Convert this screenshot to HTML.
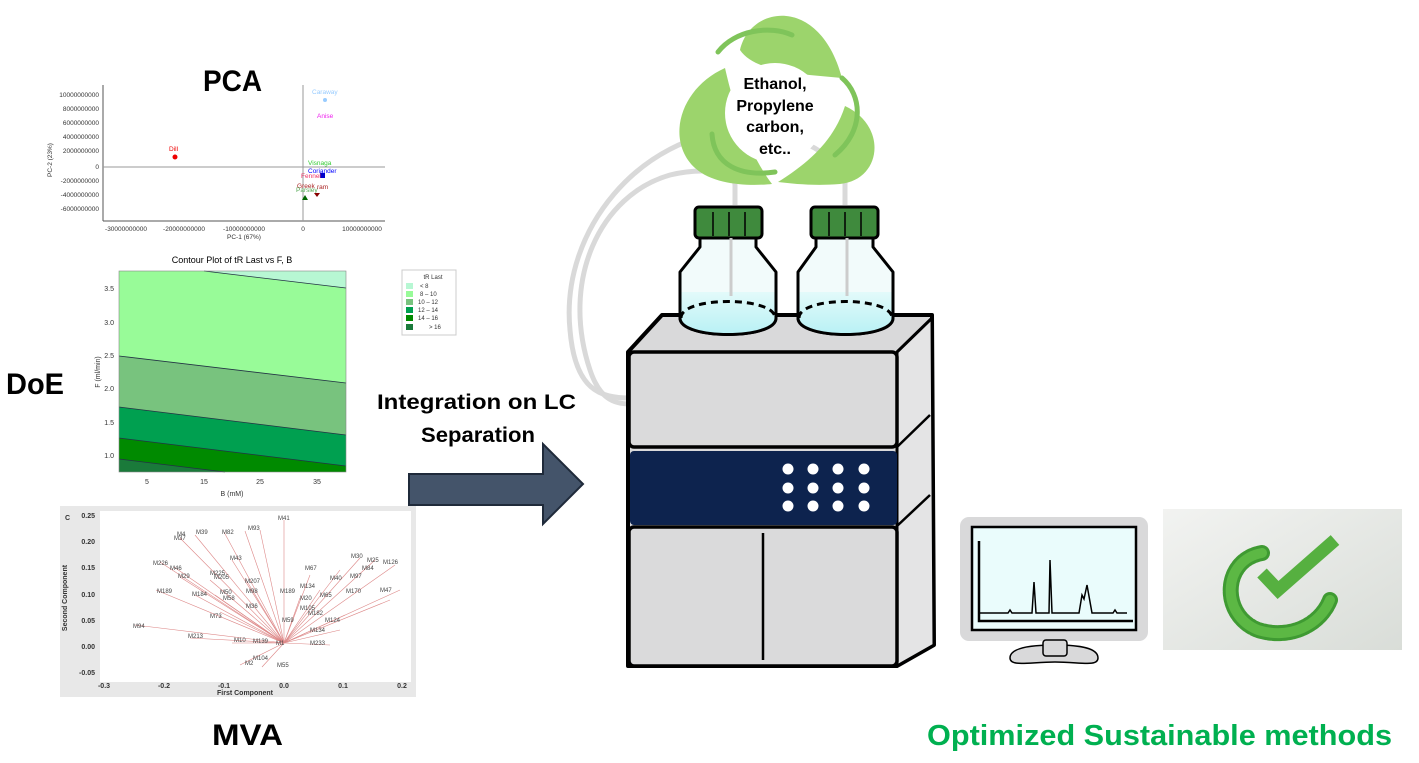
<!DOCTYPE html>
<html><head><meta charset="utf-8"><style>
body{margin:0;background:#fff;width:1419px;height:763px;overflow:hidden}
svg{display:block}
text{font-family:"Liberation Sans",sans-serif}
.b{font-family:"Liberation Sans",sans-serif;font-weight:bold}
</style></head><body>
<svg width="1419" height="763" viewBox="0 0 1419 763">
<defs>
<linearGradient id="cg" x1="0" y1="0" x2="1" y2="1"><stop offset="0" stop-color="#f2f3f1"/><stop offset="1" stop-color="#d9ddd8"/></linearGradient>
<linearGradient id="liq" x1="0" y1="0" x2="0" y2="1"><stop offset="0" stop-color="#e3fafa"/><stop offset="1" stop-color="#b8f1f5"/></linearGradient>
</defs>
<!-- Titles -->
<text x="203" y="91" class="b" font-size="30" textLength="59" lengthAdjust="spacingAndGlyphs">PCA</text>
<text x="6" y="394" class="b" font-size="30" textLength="58" lengthAdjust="spacingAndGlyphs">DoE</text>
<text x="212" y="745" class="b" font-size="30" textLength="71" lengthAdjust="spacingAndGlyphs">MVA</text>
<text x="377" y="409" class="b" font-size="21" textLength="199" lengthAdjust="spacingAndGlyphs">Integration on LC</text>
<text x="421" y="442" class="b" font-size="21" textLength="114" lengthAdjust="spacingAndGlyphs">Separation</text>
<text x="927" y="745" class="b" font-size="29" fill="#00b050" textLength="465" lengthAdjust="spacingAndGlyphs">Optimized Sustainable methods</text>

<!-- PCA -->
<g font-size="6.5" fill="#333">
<line x1="103" y1="85" x2="103" y2="221" stroke="#555"/>
<line x1="103" y1="221" x2="385" y2="221" stroke="#555"/>
<line x1="103" y1="167" x2="385" y2="167" stroke="#999"/>
<line x1="303" y1="85" x2="303" y2="221" stroke="#999"/>
<g text-anchor="end">
<text x="99" y="97">10000000000</text><text x="99" y="111">8000000000</text><text x="99" y="125">6000000000</text><text x="99" y="139">4000000000</text><text x="99" y="153">2000000000</text><text x="99" y="169">0</text><text x="99" y="183">-2000000000</text><text x="99" y="197">-4000000000</text><text x="99" y="211">-6000000000</text>
</g>
<g text-anchor="middle"><text x="126" y="231">-30000000000</text><text x="184" y="231">-20000000000</text><text x="244" y="231">-10000000000</text><text x="303" y="231">0</text><text x="362" y="231">10000000000</text><text x="244" y="239">PC-1 (67%)</text></g>
<text x="52" y="160" transform="rotate(-90 52 160)" text-anchor="middle">PC-2 (23%)</text>
<circle cx="175" cy="157" r="2.5" fill="#e00"/><text x="169" y="151" fill="#e00">Dill</text>
<circle cx="325" cy="100" r="2" fill="#9cf"/><text x="312" y="94" fill="#9cf">Caraway</text>
<text x="317" y="118" fill="#e2e">Anise</text>
<text x="308" y="165" fill="#3c3">Visnaga</text>
<rect x="320" y="173" width="5" height="5" fill="#00c"/><text x="308" y="173" fill="#00f">Coriander</text>
<text x="301" y="178" fill="#e36">Fennel</text>
<text x="297" y="188" fill="#a22">Greek</text><text x="317" y="189" fill="#a22">ram</text>
<text x="296" y="192" fill="#5a5">Parsley</text>
<path d="M305,195 l3,5 h-6z" fill="#060"/><path d="M314,193 l3,4 l3,-4z" fill="#800"/>
</g>

<!-- DoE contour -->
<text x="232" y="263" font-size="9" text-anchor="middle">Contour Plot of tR Last vs F, B</text>
<rect x="119" y="271" width="227" height="201" fill="#98fb98"/>
<path d="M204,271 L346,271 L346,288 Z" fill="#b7f7d3"/>
<path d="M119,356 L346,383 L346,472 L119,472Z" fill="#78c37e"/>
<path d="M119,407 L346,435 L346,472 L119,472Z" fill="#00a050"/>
<path d="M119,438 L346,466 L346,472 L119,472Z" fill="#008a00"/>
<path d="M119,459 L225,472 L119,472Z" fill="#1a7a3a"/>
<g stroke="#234" stroke-width="0.8" fill="none"><path d="M204,271 L346,288"/><path d="M119,356 L346,383"/><path d="M119,407 L346,435"/><path d="M119,438 L346,466"/><path d="M119,459 L225,472"/></g>
<rect x="119" y="271" width="227" height="201" fill="none" stroke="#888" stroke-width="0.6"/>
<g font-size="7" fill="#333">
<text x="114" y="291" text-anchor="end">3.5</text><text x="114" y="325" text-anchor="end">3.0</text><text x="114" y="358" text-anchor="end">2.5</text><text x="114" y="391" text-anchor="end">2.0</text><text x="114" y="425" text-anchor="end">1.5</text><text x="114" y="458" text-anchor="end">1.0</text>
<text x="147" y="484" text-anchor="middle">5</text><text x="204" y="484" text-anchor="middle">15</text><text x="260" y="484" text-anchor="middle">25</text><text x="317" y="484" text-anchor="middle">35</text>
<text x="232" y="496" text-anchor="middle">B (mM)</text>
<text x="100" y="372" transform="rotate(-90 100 372)" text-anchor="middle">F (ml/min)</text>
</g>
<rect x="402" y="270" width="54" height="65" fill="#fff" stroke="#ccc"/>
<g font-size="6" fill="#333"><text x="433" y="279" text-anchor="middle">tR Last</text>
<rect x="406" y="283" width="7" height="6" fill="#b7f7d3"/><text x="420" y="288">&lt;    8</text>
<rect x="406" y="291" width="7" height="6" fill="#98fb98"/><text x="420" y="296">8 – 10</text>
<rect x="406" y="299" width="7" height="6" fill="#78c37e"/><text x="418" y="304">10 – 12</text>
<rect x="406" y="307" width="7" height="6" fill="#00a050"/><text x="418" y="312">12 – 14</text>
<rect x="406" y="315" width="7" height="6" fill="#008a00"/><text x="418" y="320">14 – 16</text>
<rect x="406" y="324" width="7" height="6" fill="#1a7a3a"/><text x="429" y="329">&gt; 16</text></g>

<!-- MVA -->
<rect x="60" y="506" width="356" height="191" fill="#e8e8e8"/>
<rect x="100" y="511" width="311" height="171" fill="#fff"/>
<g stroke="#d88" stroke-width="0.6">
<line x1="284" y1="643" x2="284" y2="520"/><line x1="284" y1="643" x2="180" y2="538"/><line x1="284" y1="643" x2="195" y2="535"/><line x1="284" y1="643" x2="224" y2="532"/><line x1="284" y1="643" x2="245" y2="531"/><line x1="284" y1="643" x2="260" y2="530"/>
<line x1="284" y1="643" x2="160" y2="562"/><line x1="284" y1="643" x2="174" y2="567"/><line x1="284" y1="643" x2="180" y2="577"/><line x1="284" y1="643" x2="156" y2="590"/><line x1="284" y1="643" x2="210" y2="580"/><line x1="284" y1="643" x2="232" y2="560"/><line x1="284" y1="643" x2="245" y2="578"/><line x1="284" y1="643" x2="215" y2="595"/><line x1="284" y1="643" x2="195" y2="595"/><line x1="284" y1="643" x2="220" y2="612"/>
<line x1="284" y1="643" x2="135" y2="625"/><line x1="284" y1="643" x2="190" y2="638"/><line x1="284" y1="643" x2="232" y2="643"/><line x1="284" y1="643" x2="240" y2="665"/><line x1="284" y1="643" x2="262" y2="667"/>
<line x1="284" y1="643" x2="360" y2="558"/><line x1="284" y1="643" x2="375" y2="560"/><line x1="284" y1="643" x2="395" y2="565"/><line x1="284" y1="643" x2="400" y2="590"/><line x1="284" y1="643" x2="390" y2="600"/><line x1="284" y1="643" x2="340" y2="570"/><line x1="284" y1="643" x2="310" y2="575"/><line x1="284" y1="643" x2="320" y2="590"/><line x1="284" y1="643" x2="345" y2="615"/><line x1="284" y1="643" x2="340" y2="630"/><line x1="284" y1="643" x2="330" y2="645"/><line x1="284" y1="643" x2="300" y2="598"/>
</g>
<g font-size="6" fill="#444">
<text x="278" y="520">M41</text><text x="248" y="530">M93</text><text x="222" y="534">M82</text><text x="196" y="534">M39</text><text x="177" y="536">M4</text><text x="174" y="540">M37</text>
<text x="153" y="565">M226</text><text x="170" y="570">M46</text><text x="178" y="578">M29</text><text x="210" y="575">M225</text><text x="214" y="579">M205</text><text x="230" y="560">M43</text><text x="245" y="583">M207</text><text x="246" y="593">M98</text>
<text x="157" y="593">M189</text><text x="192" y="596">M184</text><text x="220" y="594">M50</text><text x="223" y="600">M58</text><text x="246" y="608">M36</text><text x="210" y="618">M73</text><text x="133" y="628">M94</text><text x="188" y="638">M213</text><text x="234" y="642">M10</text><text x="253" y="643">M139</text>
<text x="280" y="593">M189</text><text x="305" y="570">M67</text><text x="330" y="580">M40</text><text x="351" y="558">M30</text><text x="367" y="562">M25</text><text x="383" y="564">M126</text><text x="362" y="570">M84</text><text x="350" y="578">M97</text><text x="346" y="593">M170</text><text x="380" y="592">M47</text>
<text x="300" y="588">M134</text><text x="320" y="597">M65</text><text x="300" y="600">M20</text><text x="300" y="610">M105</text><text x="308" y="615">M182</text><text x="325" y="622">M124</text><text x="310" y="632">M134</text><text x="282" y="622">M59</text><text x="276" y="645">M1</text><text x="310" y="645">M233</text><text x="253" y="660">M104</text><text x="245" y="665">M2</text><text x="277" y="667">M55</text>
</g>
<g font-size="7" fill="#333" font-weight="bold">
<text x="95" y="518" text-anchor="end">0.25</text><text x="95" y="544" text-anchor="end">0.20</text><text x="95" y="570" text-anchor="end">0.15</text><text x="95" y="597" text-anchor="end">0.10</text><text x="95" y="623" text-anchor="end">0.05</text><text x="95" y="649" text-anchor="end">0.00</text><text x="95" y="675" text-anchor="end">-0.05</text>
<text x="104" y="688" text-anchor="middle">-0.3</text><text x="164" y="688" text-anchor="middle">-0.2</text><text x="224" y="688" text-anchor="middle">-0.1</text><text x="284" y="688" text-anchor="middle">0.0</text><text x="343" y="688" text-anchor="middle">0.1</text><text x="402" y="688" text-anchor="middle">0.2</text>
<text x="245" y="695" text-anchor="middle">First Component</text>
<text x="67" y="598" transform="rotate(-90 67 598)" text-anchor="middle">Second Component</text>
<text x="65" y="520">C</text></g>

<!-- Arrow -->
<path d="M409,474 H543 V444 L583,484 L543,524 V505 H409 Z" fill="#44546a" stroke="#1f2a3a" stroke-width="2"/>

<!-- tubes -->
<g fill="none" stroke="#d9d9d9" stroke-width="5">
<path d="M735,205 V185 C735,170 700,168 670,175 C600,195 560,280 590,370 C600,400 615,404 630,404"/>
<path d="M845,205 V180 C845,165 800,127 740,130 C640,135 560,230 570,330 C575,390 600,398 630,398"/>
</g>

<!-- leaves -->
<path d="M740,50 C750,5 820,-5 842,78 C800,74 755,72 740,50Z" fill="#9cd46c"/>
<path d="M725,68 C680,88 665,140 695,168 C715,186 752,186 772,184 C750,155 735,112 725,68Z" fill="#9cd46c"/>
<path d="M845,106 C888,126 882,180 840,184 C815,186 795,184 778,182 C810,162 834,140 845,106Z" fill="#9cd46c"/>
<circle cx="775" cy="113" r="50" fill="#fff"/>
<g fill="none" stroke="#7fc45a" stroke-width="5" stroke-linecap="round">
<path d="M718,52 C735,30 770,25 792,35"/><path d="M842,78 C862,95 865,130 835,155"/><path d="M712,134 C714,165 740,177 775,172"/>
</g>
<g class="b" font-size="16" text-anchor="middle"><text x="775" y="89">Ethanol,</text><text x="775" y="111">Propylene</text><text x="775" y="132">carbon,</text><text x="775" y="154">etc..</text></g>

<!-- LC instrument -->
<path d="M628,352 L662,315 L932,315 L934,645 L897,666 L628,666Z" fill="#d9d9da" stroke="#000" stroke-width="4" stroke-linejoin="round"/>
<path d="M897,352 L932,318 L934,645 L897,666Z" fill="#e4e4e5" stroke="#000" stroke-width="3" stroke-linejoin="round"/>
<line x1="897" y1="447" x2="930" y2="415" stroke="#000" stroke-width="2.5"/>
<line x1="897" y1="526" x2="930" y2="495" stroke="#000" stroke-width="2.5"/>
<rect x="629" y="352" width="268" height="95" rx="5" fill="#dadadb" stroke="#000" stroke-width="3.5"/>
<rect x="630" y="451" width="267" height="74" rx="4" fill="#0d234e"/>
<rect x="629" y="527" width="268" height="139" rx="5" fill="#dadadb" stroke="#000" stroke-width="3.5"/>
<line x1="763" y1="533" x2="763" y2="660" stroke="#000" stroke-width="2.5"/>
<g fill="#fff">
<circle cx="788" cy="469" r="5.5"/><circle cx="813" cy="469" r="5.5"/><circle cx="838" cy="469" r="5.5"/><circle cx="864" cy="469" r="5.5"/>
<circle cx="788" cy="488" r="5.5"/><circle cx="813" cy="488" r="5.5"/><circle cx="838" cy="488" r="5.5"/><circle cx="864" cy="488" r="5.5"/>
<circle cx="788" cy="506" r="5.5"/><circle cx="813" cy="506" r="5.5"/><circle cx="838" cy="506" r="5.5"/><circle cx="864" cy="506" r="5.5"/>
</g>

<!-- bottles -->
<g stroke="#000" stroke-width="3" stroke-linejoin="round">
<path d="M700,237 L700,247 L680,272 L680,318 C680,340 776,340 776,318 L776,272 L756,247 L756,237Z" fill="#f2fbfb"/>
<path d="M681,292 H775 V318 C775,340 681,340 681,318Z" fill="url(#liq)" stroke="none"/>
<path d="M680,272 L680,318 C680,340 776,340 776,318 L776,272" fill="none"/>
<rect x="695" y="207" width="67" height="31" rx="4" fill="#3f8a3d"/>
<path d="M816,237 L816,247 L798,272 L798,318 C798,340 893,340 893,318 L893,272 L873,247 L873,237Z" fill="#f2fbfb"/>
<path d="M799,292 H892 V318 C892,340 799,340 799,318Z" fill="url(#liq)" stroke="none"/>
<path d="M798,272 L798,318 C798,340 893,340 893,318 L893,272" fill="none"/>
<rect x="811" y="207" width="67" height="31" rx="4" fill="#3f8a3d"/>
</g>
<g stroke="#000" stroke-width="1.5"><line x1="713" y1="212" x2="713" y2="236"/><line x1="729" y1="212" x2="729" y2="236"/><line x1="745" y1="212" x2="745" y2="236"/><line x1="829" y1="212" x2="829" y2="236"/><line x1="845" y1="212" x2="845" y2="236"/><line x1="861" y1="212" x2="861" y2="236"/></g>
<g stroke="#ccc" stroke-width="3"><line x1="731" y1="238" x2="731" y2="296"/><line x1="847" y1="238" x2="847" y2="296"/></g>
<g fill="none" stroke="#000" stroke-width="3" stroke-dasharray="7,5"><path d="M681,318 C681,296 775,296 775,318"/><path d="M799,318 C799,296 892,296 892,318"/></g>

<!-- monitor -->
<rect x="960" y="517" width="188" height="124" rx="9" fill="#d9d9da"/>
<rect x="972" y="527" width="164" height="103" fill="#eafcfc" stroke="#000" stroke-width="2.5"/>
<path d="M979,541 V621 H1133" fill="none" stroke="#000" stroke-width="2.5"/>
<path d="M979,613 H1008 L1010,610 L1012,613 H1032 L1034,582 L1036,613 H1049 L1050,560 L1052,613 H1079 L1082,595 L1084,599 L1087,585 L1092,613 H1113 L1115,610 L1117,613 H1127" fill="none" stroke="#000" stroke-width="1.5"/>
<path d="M1010,658 C1010,648 1030,645 1055,645 C1080,645 1098,648 1098,658 C1098,667 1080,662 1055,662 C1030,662 1010,667 1010,658Z" fill="#d9d9da" stroke="#000" stroke-width="1.5"/>
<rect x="1043" y="640" width="24" height="16" rx="3" fill="#d9d9da" stroke="#000" stroke-width="1.5"/>

<!-- check image -->
<rect x="1163" y="509" width="239" height="141" fill="url(#cg)"/>
<path d="M1262,553 C1222,560 1220,615 1258,630 C1290,640 1320,625 1330,600" fill="none" stroke="#3f9a32" stroke-width="16" stroke-linecap="round" stroke-dasharray="3,2"/>
<path d="M1262,553 C1222,560 1220,615 1258,630 C1290,640 1320,625 1330,600" fill="none" stroke="#5cb844" stroke-width="10" stroke-linecap="round"/>
<path d="M1262,573 L1278,590 L1335,540" fill="none" stroke="#56b040" stroke-width="13" stroke-linejoin="miter"/>
</svg>
</body></html>
